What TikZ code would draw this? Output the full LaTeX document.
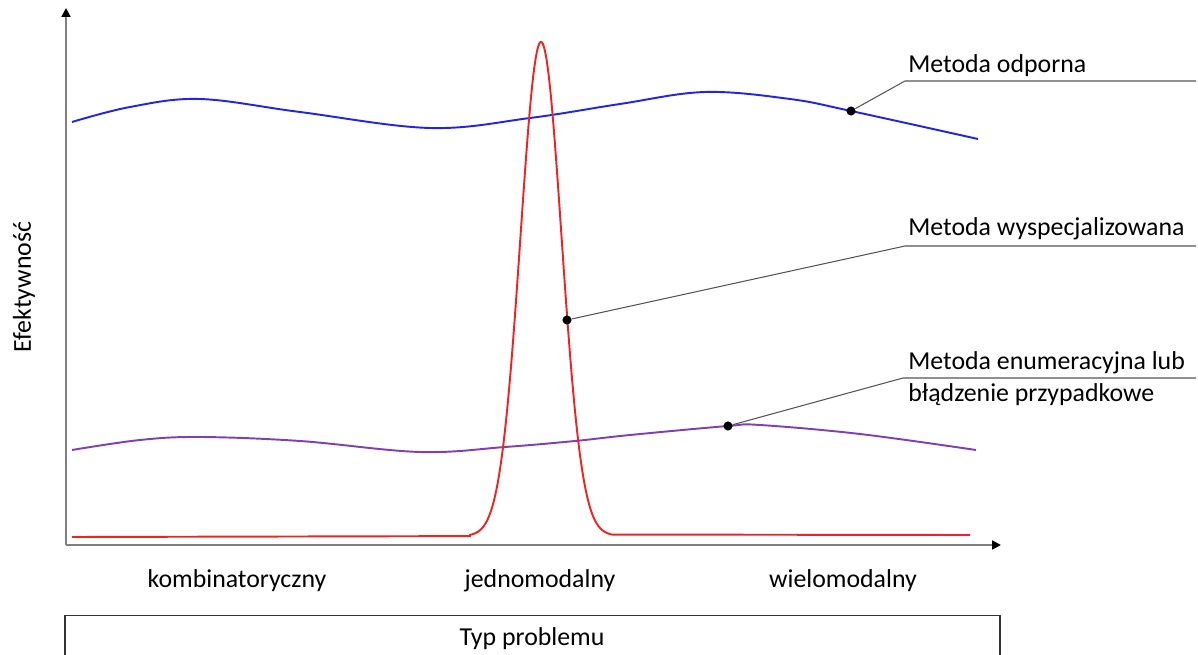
\documentclass[tikz,border=0pt]{standalone}
\usepackage{fontspec}
\setmainfont{Carlito}
\usetikzlibrary{arrows.meta}

\definecolor{odpornaBlue}{HTML}{2424E6}
\definecolor{wyspRed}{HTML}{EE2424}
\definecolor{enumPurple}{HTML}{7F40B5}
\definecolor{osGray}{HTML}{808080}
\definecolor{leaderGray}{HTML}{555555}

\begin{document}
\begin{tikzpicture}[x=0.02cm, y=-0.02cm,
	every node/.style={font=\fontsize{14.7}{18.7}\selectfont, inner sep=0pt},
	axis/.style={osGray, line width=1.1pt, -{Triangle[length=5pt,width=5pt,black]}},
	curve/.style={line width=1.1pt},
	dotmark/.style={circle, fill=black, minimum size=5.2pt, inner sep=0pt},
	leader/.style={leaderGray, line width=0.6pt},
	methodtext/.style={anchor=base west, align=left}]
		\useasboundingbox (0,0) rectangle (1198,655);
		% Osie
		\coordinate (origin) at (66,545);
		\coordinate (ytip) at (66,8);
		\coordinate (xtip) at (1001,545);
		\draw[axis] (origin) -- (ytip);
		\draw[axis] (origin) -- (xtip);
		\node[rotate=90] (efekt) at (24,287) {Efektywność};
		% Metoda odporna
		\draw[curve, odpornaBlue] plot[smooth, tension=0.6] coordinates {(72,122) (130,107) (200,99) (300,112) (430,128) (530,118) (620,104) (705,92) (790,99) (851,111) (978,139)};
		% Metoda enumeracyjna
		\draw[curve, enumPurple] plot[smooth, tension=0.6] coordinates {(72,450) (140,440) (200,437) (300,441) (420,452) (505,447) (575,441) (630,435) (728,426) (760,425) (860,434) (976,450)};
		% Metoda wyspecjalizowana
		\draw[curve, wyspRed] (72,537) -- (470,536.1)
			-- plot[domain=470:612, samples=120] (\x, {536.1 - 0.0023*(\x-470) - 494*exp(-((\x-541)/20.5)^2/2)})
			-- (970,535);
		% Opisy metod
		\node[dotmark] (dotOdporna) at (851,111) {};
		\coordinate (kneeOdporna) at (905,81);
		\coordinate (endOdporna) at (1196,81);
		\draw[leader] (dotOdporna) -- (kneeOdporna) -- (endOdporna);
		\node[methodtext] (txtOdporna) at (908,72.7) {Metoda odporna};
		\node[dotmark] (dotWysp) at (567,320) {};
		\coordinate (kneeWysp) at (905,246);
		\coordinate (endWysp) at (1196,246);
		\draw[leader] (dotWysp) -- (kneeWysp) -- (endWysp);
		\node[methodtext] (txtWysp) at (908,236) {Metoda wyspecjalizowana};
		\node[dotmark] (dotEnum) at (728,426) {};
		\coordinate (kneeEnum) at (903,378);
		\coordinate (endEnum) at (1196,378);
		\draw[leader] (dotEnum) -- (kneeEnum) -- (endEnum);
		\node[methodtext] (txtEnum) at (908,402) {Metoda enumeracyjna lub\\błądzenie przypadkowe};
		% Typy problemow
		\node[anchor=base] (kombi) at (237,587) {kombinatoryczny};
		\node[anchor=base] (jedno) at (540,587) {jednomodalny};
		\node[anchor=base] (wielo) at (843,587) {wielomodalny};
		\draw[black!80, line width=0.85pt] (65,662) -- (65,615.5) -- (1000,615.5) -- (1000,662);
		\node[anchor=base] (typ) at (532,645) {Typ problemu};
	\end{tikzpicture}
\end{document}
